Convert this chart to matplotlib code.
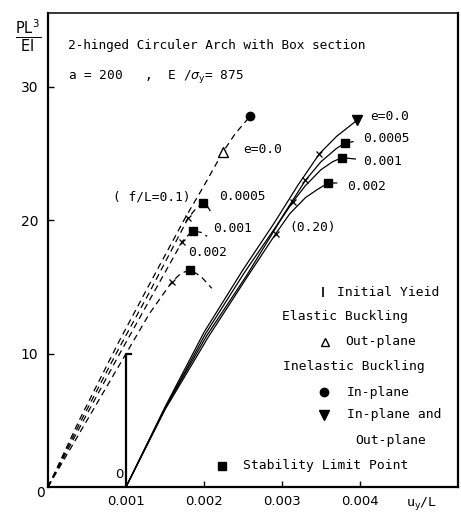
import matplotlib
matplotlib.use("Agg")
import matplotlib.pyplot as plt

# ---- data ----
# f/L = 0.1 arch, dashed curves starting at the origin
d_e00_x = [0, 0.0004, 0.0009, 0.0013, 0.00176, 0.0020, 0.00224, 0.0024, 0.00259]
d_e00_y = [0, 5.0, 10.8, 15.2, 20.2, 22.6, 25.1, 26.5, 27.8]
d_e05_x = [0, 0.0004, 0.0009, 0.0013, 0.0018, 0.0019, 0.00199, 0.00205, 0.0021]
d_e05_y = [0, 4.7, 10.3, 14.6, 20.2, 20.9, 21.3, 21.0, 20.5]
d_e10_x = [0, 0.0004, 0.0009, 0.0013, 0.00172, 0.0018, 0.00186, 0.00196, 0.00204]
d_e10_y = [0, 4.4, 9.8, 14.0, 18.4, 18.9, 19.2, 19.1, 18.8]
d_e20_x = [0, 0.0004, 0.0009, 0.0013, 0.00159, 0.0017, 0.00182, 0.00196, 0.0021]
d_e20_y = [0, 4.0, 9.0, 13.0, 15.4, 16.0, 16.3, 15.8, 14.9]

# f/L = 0.20 arch, solid curves starting at u/L = 0.001
s_e00_x = [0.001, 0.0015, 0.002, 0.0025, 0.0029, 0.0032, 0.00348, 0.0037, 0.00396]
s_e00_y = [0, 6.0, 11.6, 16.3, 19.8, 22.6, 25.0, 26.3, 27.5]
s_e05_x = [0.001, 0.0015, 0.00202, 0.00252, 0.00293, 0.0033, 0.0035, 0.0037, 0.00381, 0.00391]
s_e05_y = [0, 5.9, 11.5, 16.1, 19.6, 23.0, 24.4, 25.4, 25.8, 25.9]
s_e10_x = [0.001, 0.0015, 0.00204, 0.00255, 0.00298, 0.00314, 0.0033, 0.0035, 0.00365, 0.00377, 0.00394]
s_e10_y = [0, 5.9, 11.4, 15.9, 20.0, 21.4, 22.6, 23.8, 24.4, 24.7, 24.6]
s_e20_x = [0.001, 0.0015, 0.00206, 0.00257, 0.00292, 0.0031, 0.0033, 0.00345, 0.00359, 0.0037]
s_e20_y = [0, 5.8, 11.3, 15.9, 19.0, 20.5, 21.7, 22.3, 22.8, 22.8]

# special points
yield_x = [0.0018, 0.00172, 0.00159, 0.00348, 0.0033, 0.00314, 0.00292]
yield_y = [20.2, 18.4, 15.4, 25.0, 23.0, 21.4, 19.0]
limit_x = [0.00199, 0.00186, 0.00182, 0.00381, 0.00377, 0.00359]
limit_y = [21.3, 19.2, 16.3, 25.8, 24.7, 22.8]
elastic_out_x, elastic_out_y = [0.00224], [25.1]
inel_in_x, inel_in_y = [0.00259], [27.8]
inel_both_x, inel_both_y = [0.00396], [27.5]

x_ticks = [0.001, 0.002, 0.003, 0.004]
x_ticklabels = ["0.001", "0.002", "0.003", "0.004"]
y_ticks = [10, 20, 30]
y_ticklabels = ["10", "20", "30"]

MONO = "DejaVu Sans Mono"
LW = 0.9
DASH = (0, (5, 3.5))

fig = plt.figure(figsize=(4.61, 5.13), dpi=100)
ax = fig.add_axes([48 / 461, 26 / 513, 410 / 461, 474 / 513])
ax.set_xlim(0, 0.005256)
ax.set_ylim(0, 35.55)

for xs, ys in [(d_e00_x, d_e00_y), (d_e05_x, d_e05_y), (d_e10_x, d_e10_y), (d_e20_x, d_e20_y)]:
    ax.plot(xs, ys, color="black", lw=LW, linestyle=DASH)
for xs, ys in [(s_e00_x, s_e00_y), (s_e05_x, s_e05_y), (s_e10_x, s_e10_y), (s_e20_x, s_e20_y)]:
    ax.plot(xs, ys, color="black", lw=LW)

ax.plot(yield_x, yield_y, "x", color="black", ms=5, mew=0.9)
ax.plot(limit_x, limit_y, "s", color="black", ms=6)
ax.plot(elastic_out_x, elastic_out_y, "^", mfc="white", mec="black", ms=7, mew=1.0)
ax.plot(inel_in_x, inel_in_y, "o", color="black", ms=6)
ax.plot(inel_both_x, inel_both_y, "v", color="black", ms=7)

# shifted origin for the f/L = 0.20 family
ax.plot([0.001, 0.001, 0.00106], [0, 10, 10], color="black", lw=1.6)
ax.text(0.00097, 0.9, "0", ha="right", va="center", fontsize=9.5)

# curve labels
lab = dict(fontfamily=MONO, fontsize=9.3, va="center", ha="left")
ax.text(0.0025, 25.3, "e=0.0", **lab)
ax.text(0.00083, 21.75, "( f/L=0.1)", **lab)
ax.text(0.0022, 21.75, "0.0005", **lab)
ax.text(0.00212, 19.35, "0.001", **lab)
ax.text(0.0018, 17.55, "0.002", **lab)
ax.text(0.00413, 27.8, "e=0.0", **lab)
ax.text(0.00404, 26.1, "0.0005", **lab)
ax.text(0.00404, 24.4, "0.001", **lab)
ax.text(0.00383, 22.5, "0.002", **lab)
ax.text(0.0031, 19.5, "(0.20)", **lab)

# key
key = dict(fontfamily=MONO, fontsize=9.4, va="center", ha="left", transform=ax.transAxes)
ax.plot([0.671], [0.411], "|", color="black", ms=7, mew=1.2, transform=ax.transAxes)
ax.text(0.705, 0.411, "Initial Yieid", **key)
ax.text(0.571, 0.359, "Elastic Buckling", **key)
ax.plot([0.676], [0.306], "^", mfc="white", mec="black", ms=6, mew=1.0, transform=ax.transAxes)
ax.text(0.724, 0.306, "Out-plane", **key)
ax.text(0.573, 0.255, "Inelastic Buckling", **key)
ax.plot([0.673], [0.200], "o", color="black", ms=6, transform=ax.transAxes)
ax.text(0.729, 0.200, "In-plane", **key)
ax.plot([0.673], [0.152], "v", color="black", ms=6.5, transform=ax.transAxes)
ax.text(0.729, 0.152, "In-plane and", **key)
ax.text(0.749, 0.099, "Out-plane", **key)
ax.plot([0.424], [0.044], "s", color="black", ms=6, transform=ax.transAxes)
ax.text(0.476, 0.046, "Stability Limit Point", **key)

# header text
ax.text(0.049, 0.932, "2-hinged Circuler Arch with Box section", fontfamily=MONO,
        fontsize=9.2, va="center", ha="left", transform=ax.transAxes)
ax.text(0.049, 0.865, r"a = 200   ,  E /$\sigma_\mathrm{y}$= 875", fontfamily=MONO,
        fontsize=9.2, va="center", ha="left", transform=ax.transAxes)

# axes styling
ax.set_xticks(x_ticks)
ax.set_xticklabels(x_ticklabels, fontsize=9.5)
ax.set_yticks(y_ticks)
ax.set_yticklabels(y_ticklabels, fontsize=10)
ax.tick_params(axis="x", direction="in", length=4, width=1.0, pad=6)
ax.tick_params(axis="y", direction="in", length=4, width=1.0, pad=7)
for side, w in [("left", 1.6), ("bottom", 1.6), ("right", 1.6), ("top", 1.1)]:
    ax.spines[side].set_linewidth(w)

fig.text(40 / 461, 1 - 493 / 513, "0", ha="center", va="center", fontsize=10)
fig.text(28 / 461, 1 - 36 / 513, r"$\frac{\mathrm{PL}^3}{\mathrm{EI}}$", ha="center",
         va="center", fontsize=15)
fig.text(422 / 461, 1 - 504 / 513, r"u$_\mathrm{y}$/L", fontfamily=MONO, ha="center",
         va="center", fontsize=9.5)

fig.savefig("out.png", dpi=100)
